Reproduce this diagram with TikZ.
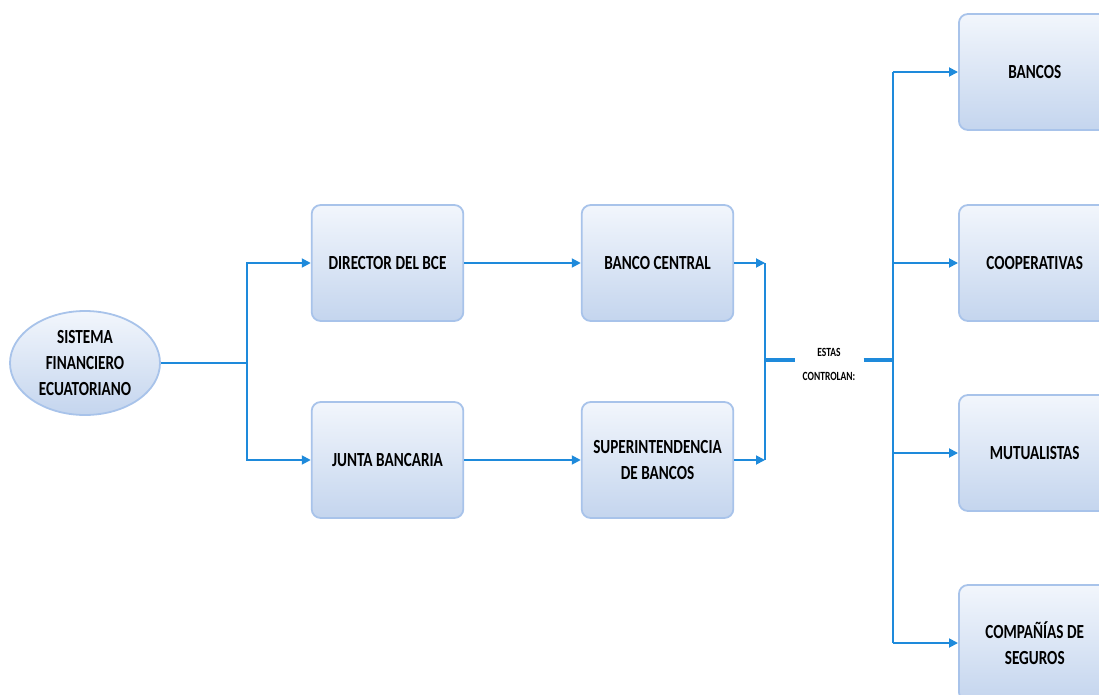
\documentclass[tikz,border=0pt]{standalone}
\usepackage{fontspec}
\setmainfont{Carlito}
\newfontfamily\narrowfont[FakeStretch=0.76]{Carlito}
\newcommand{\boxfont}{\narrowfont\fontsize{20}{26}\selectfont\bfseries}
\newcommand{\smallboxfont}{\narrowfont\fontsize{12.5}{24}\selectfont\bfseries}
\usetikzlibrary{arrows.meta,shapes.geometric}
\definecolor{lineblue}{HTML}{1E8ADB}
\definecolor{boxedge}{HTML}{A8C3EA}
\definecolor{boxtop}{HTML}{F2F6FC}
\definecolor{boxbot}{HTML}{C4D5EE}
\tikzset{
  tight words/.style={execute at begin node={\spaceskip=#1\relax}},
  box/.style={draw=boxedge, line width=1.8pt, rounded corners=9pt, top color=boxtop, bottom color=boxbot,
    minimum width=151pt, minimum height=116pt, align=center, font=\boxfont, text width=145pt, tight words=3.5pt},
  oval/.style={ellipse, draw=boxedge, line width=1.8pt, top color=boxtop, bottom color=boxbot,
    minimum width=150pt, minimum height=104pt, align=center, font=\boxfont, inner sep=0pt},
  conn/.style={draw=lineblue, line width=1.8pt},
  arr/.style={conn, -{Triangle[length=9pt,width=9pt]}},
  thick conn/.style={draw=lineblue, line width=3.5pt},
}
\begin{document}
\begin{tikzpicture}[x=1pt,y=-1pt]
\useasboundingbox (0,0) rectangle (1099,695);
\node[oval] (sis) at (85,363) {SISTEMA\\FINANCIERO\\ECUATORIANO};
\node[box] (dir) at (387.5,263) {DIRECTOR DEL BCE};
\node[box] (bc) at (657.5,263) {BANCO CENTRAL};
\node[box] (jb) at (387.5,460) {JUNTA BANCARIA};
\node[box] (sb) at (657.5,460) {SUPERINTENDENCIA\\DE BANCOS};
\node[box, anchor=west] (b1) at (958,72) {BANCOS};
\node[box, anchor=west] (b2) at (958,263) {COOPERATIVAS};
\node[box, anchor=west] (b3) at (958,453) {MUTUALISTAS};
\node[box, anchor=west] (b4) at (958,643) {COMPAÑÍAS DE\\SEGUROS};
\node[align=center, font=\smallboxfont, inner sep=1pt] (est) at (829,364) {ESTAS\\CONTROLAN:};
\coordinate (j1) at (247,363);
\coordinate (m1) at (765,263);
\coordinate (m2) at (765,460);
\coordinate (m3) at (765,360);
\coordinate (r0) at (893,360);
\coordinate (rt) at (893,72);
\coordinate (rb) at (893,643);
\draw[conn] (sis.east) -- (j1);
\draw[arr] (j1) |- (dir.west);
\draw[arr] (j1) |- (jb.west);
\draw[arr] (dir.east) -- (bc.west);
\draw[arr] (jb.east) -- (sb.west);
\draw[arr] (bc.east) -- (m1);
\draw[arr] (sb.east) -- (m2);
\draw[conn] (m1) -- (m2);
\draw[thick conn] (m3) -- ([xshift=-6pt]m3 -| est.west);
\draw[thick conn] ([xshift=7pt]r0 -| est.east) -- (r0);
\draw[conn] (rt) -- (rb);
\draw[arr] (rt) -- (b1.west);
\draw[arr] (rt |- b2.west) -- (b2.west);
\draw[arr] (rt |- b3.west) -- (b3.west);
\draw[arr] (rb) -- (b4.west);
\end{tikzpicture}
\end{document}
